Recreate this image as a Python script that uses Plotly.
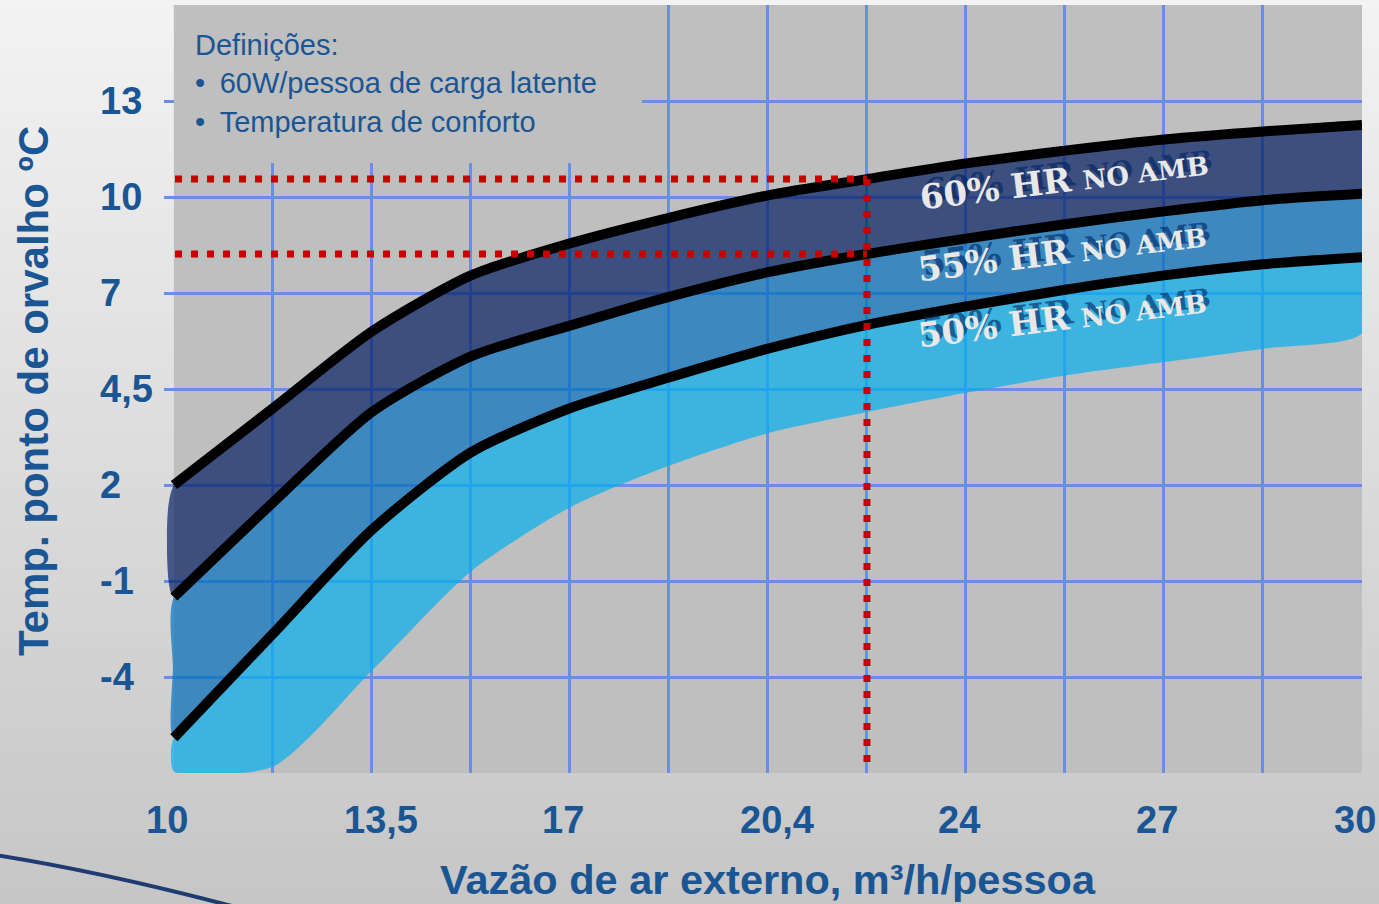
import numpy as np
import plotly.graph_objects as go

# ---- axis labels (real units); each label sits on every other grid line ----
flow_ticks = [10, 13.5, 17, 20.4, 24, 27, 30]
flow_tick_labels = ["10", "13,5", "17", "20,4", "24", "27", "30"]
dew_ticks = [-4, -1, 2, 4.5, 7, 10, 13]
dew_tick_labels = ["-4", "-1", "2", "4,5", "7", "10", "13"]

# ---- curves: outdoor air flow (m3/h/person) vs dew point (C) ----
flow = [10, 11.75, 13.5, 15.25, 17, 18.7, 20.4, 22.2, 24, 25.5, 27, 28.5, 30]
rh60 = [2.0, 4.0, 6.0, 7.55, 8.55, 9.35, 10.05, 10.56, 11.05, 11.45, 11.8, 12.05, 12.25]
rh55 = [-1.5, 1.45, 3.9, 5.35, 6.15, 6.9, 7.65, 8.22, 8.7, 9.15, 9.55, 9.9, 10.1]
rh50 = [-5.9, -2.65, 0.6, 2.85, 4.0, 4.8, 5.55, 6.17, 6.65, 7.1, 7.55, 7.9, 8.12]
rh50_low = [-6.95, -6.8, -3.8, -0.7, 1.3, 2.5, 3.35, 3.9, 4.4, 4.85, 5.2, 5.55, 5.95]

# reference flow for the dotted guide lines
flow_ref = 22.2

band_labels = ["60% HR", "55% HR", "50% HR"]
legend_lines = ["Definições:", "•\u200260W/pessoa de carga latente", "•\u2002Temperatura de conforto"]


def to_pos(v, ticks, step):
    """Piecewise-linear mapping from real units to grid positions."""
    v = np.asarray(v, dtype=float)
    t = np.asarray(ticks, dtype=float)
    p = np.arange(len(t)) * step
    out = np.interp(v, t, p)
    lo, hi = v < t[0], v > t[-1]
    out[lo] = p[0] + (v[lo] - t[0]) * (p[1] - p[0]) / (t[1] - t[0])
    out[hi] = p[-1] + (v[hi] - t[-1]) * (p[-1] - p[-2]) / (t[-1] - t[-2])
    return out


def X(v):
    return to_pos(v, flow_ticks, 2)


def Y(v):
    return to_pos(v, dew_ticks, 1)


# ---- page geometry ----
W, H = 1379, 904
ML, MR, MT, MB = 164, 17, 5, 131
PW, PH = W - ML - MR, H - MT - MB


def pxx(xp):
    return (xp - ML) / PW


def pxy(yp):
    return (H - MB - yp) / PH


BLUE_TXT = "#1a5594"
GRID = "#6a8ee6"
PLOT_BG = "#bfbfbf"

fig = go.Figure()

xs = X(flow)
y60, y55, y50, ylo = Y(rh60), Y(rh55), Y(rh50), Y(rh50_low)


def band(upper, lower, cap_dx, color):
    cap_y = (upper[0] + lower[0]) / 2
    bx = np.concatenate([xs, xs[::-1], [xs[0] - cap_dx, xs[0]]])
    by = np.concatenate([upper, lower[::-1], [cap_y, upper[0]]])
    fig.add_trace(go.Scatter(
        x=bx, y=by, mode="lines", fill="toself", fillcolor=color,
        line=dict(width=0, shape="spline", smoothing=0.7),
        hoverinfo="skip", showlegend=False))


band(y60, y55, 0.07, "rgba(0,26,97,0.68)")
band(y55, y50, 0.01, "rgba(0,110,192,0.68)")
band(y50, ylo, 0.03, "rgba(0,175,240,0.68)")

for ys in (y60, y55, y50):
    fig.add_trace(go.Scatter(
        x=xs, y=ys, mode="lines",
        line=dict(color="black", width=10, shape="spline", smoothing=0.7),
        hoverinfo="skip", showlegend=False))

# dotted guides at the reference flow
i_ref = flow.index(flow_ref)
red = dict(color="#c80000", width=7, dash="7px,9px")
for yv in (rh60[i_ref], rh55[i_ref]):
    fig.add_trace(go.Scatter(
        x=X([flow[0] + 0.02, flow_ref]), y=Y([yv, yv]), mode="lines",
        line=red, hoverinfo="skip", showlegend=False))
fig.add_trace(go.Scatter(
    x=X([flow_ref, flow_ref]), y=[Y([rh60[i_ref]])[0], -0.97], mode="lines",
    line=red, hoverinfo="skip", showlegend=False))

# ---- background: vertical gradient page, gray plot area ----
shapes = []
step = 8
for top in range(0, H, step):
    g = int(round(243 - 0.05 * (top + step / 2)))
    shapes.append(dict(type="rect", xref="paper", yref="paper",
                       x0=pxx(0), x1=pxx(W), y0=pxy(top + step), y1=pxy(top),
                       fillcolor=f"rgb({g},{g},{g})", line_width=0, layer="below"))
shapes.append(dict(type="rect", xref="x", yref="y", x0=0, x1=12, y0=-1, y1=7,
                   fillcolor=PLOT_BG, line_width=0, layer="below"))
# panel behind the definitions text hides the grid there
shapes.append(dict(type="rect", xref="x", yref="y", x0=0, x1=(642 - 174) / 99,
                   y0=(677 - 163) / 96, y1=7, fillcolor=PLOT_BG, line_width=0,
                   layer="between"))
# decorative swoosh, lower left
shapes.append(dict(type="path", xref="paper", yref="paper",
                   path=f"M {pxx(-5)},{pxy(855)} Q {pxx(110)},{pxy(873)} {pxx(262)},{pxy(914)}",
                   line=dict(color="#1e3c72", width=4), layer="above"))

ann = []
# y tick labels, left aligned
for v, t in zip(dew_ticks, dew_tick_labels):
    ann.append(dict(xref="paper", yref="y", x=pxx(98), y=Y([v])[0], text=t,
                    xanchor="left", yanchor="middle", showarrow=False,
                    font=dict(family="Liberation Sans, Arial", size=38, color=BLUE_TXT, weight="bold")))
# x tick labels (decimal-comma labels sit a little to the right)
for v, t in zip(flow_ticks, flow_tick_labels):
    ann.append(dict(xref="x", yref="paper", x=X([v])[0], y=pxy(820), text=t,
                    xanchor="center", yanchor="middle", showarrow=False,
                    xshift=9 if "," in t else -7,
                    font=dict(family="Liberation Sans, Arial", size=38, color=BLUE_TXT, weight="bold")))
# axis titles
ann.append(dict(xref="paper", yref="paper", x=pxx(768), y=pxy(879),
                text="Vazão de ar externo, m³/h/pessoa", showarrow=False,
                xanchor="center", yanchor="middle",
                font=dict(family="Liberation Sans, Arial", size=41.5, color=BLUE_TXT, weight="bold")))
ann.append(dict(xref="paper", yref="paper", x=pxx(33), y=pxy(391),
                text="Temp. ponto de orvalho ºC", showarrow=False, textangle=-90,
                xanchor="center", yanchor="middle",
                font=dict(family="Liberation Sans, Arial", size=42, color=BLUE_TXT, weight="bold")))
# definitions block
for i, line in enumerate(legend_lines):
    ann.append(dict(xref="paper", yref="paper", x=pxx(193), y=pxy(45 + 38.5 * i),
                    text=line, showarrow=False, xanchor="left", yanchor="middle",
                    font=dict(family="Liberation Sans, Arial", size=29, color=BLUE_TXT)))
# band labels
label_centers = [(1064, 180), (1062, 252), (1062, 318)]
for lab, (cx, cy) in zip(band_labels, label_centers):
    txt = f'{lab} <span style="font-size:26px">NO AMB</span>'
    for color, dx, dy in (("rgba(0,35,95,0.6)", 4, 6), ("#e8e8e8", 0, 0)):
        ann.append(dict(xref="paper", yref="paper", x=pxx(cx), y=pxy(cy), text=txt,
                        showarrow=False, textangle=-7, xanchor="center", yanchor="middle",
                        xshift=dx, yshift=dy,
                        font=dict(family="DejaVu Serif", size=34, color=color, weight="bold")))

fig.update_layout(
    width=W, height=H,
    margin=dict(l=ML, r=MR, t=MT, b=MB, pad=0),
    paper_bgcolor="#e0e0e0", plot_bgcolor="rgba(0,0,0,0)",
    shapes=shapes, annotations=ann, showlegend=False,
    xaxis=dict(range=[-0.1, 12], tickvals=list(range(1, 12)), showticklabels=False,
               showgrid=True, gridcolor=GRID, gridwidth=2.5, zeroline=False,
               showline=False, ticks="", fixedrange=True),
    yaxis=dict(range=[-1, 7], tickvals=list(range(0, 7)), showticklabels=False,
               showgrid=True, gridcolor=GRID, gridwidth=2.5, zeroline=False,
               showline=False, ticks="", fixedrange=True),
)

fig.write_html("out.html", config={"displayModeBar": False})
